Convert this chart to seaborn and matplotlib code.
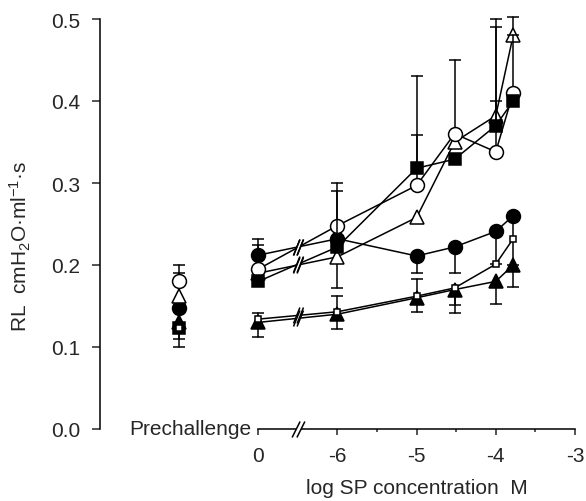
import numpy as np
import pandas as pd
import seaborn as sns
import matplotlib.pyplot as plt
from matplotlib.path import Path

# x positions: prechallenge sits one unit left of the "0" (saline) dose
pre_x = -8
dose_x = [-7, -6, -5, -4.52, -4, -3.78]
x_ticks = [-7, -6, -5, -4, -3]
x_tick_labels = ["0", "-6", "-5", "-4", "-3"]
x_minor = [-5.5, -4.5, -3.5]
y_ticks = [0.0, 0.1, 0.2, 0.3, 0.4, 0.5]

# first value is prechallenge, the rest follow dose_x
open_circle = [0.180, 0.195, 0.248, 0.297, 0.360, 0.338, 0.410]
filled_circle = [0.148, 0.212, 0.232, 0.211, 0.222, 0.241, 0.260]
open_triangle = [0.162, 0.190, 0.210, 0.258, 0.350, 0.382, 0.480]
filled_square = [0.123, 0.180, 0.222, 0.318, 0.329, 0.370, 0.400]
filled_triangle = [0.130, 0.130, 0.140, 0.160, 0.170, 0.180, 0.200]
small_square = [0.123, 0.134, 0.143, 0.162, 0.172, 0.201, 0.232]

# error bars drawn one-sided (down / up), 0 = not drawn
open_circle_lo = [0, 0, 0, 0, 0, 0, 0]
open_circle_hi = [0.020, 0.030, 0.052, 0.061, 0.090, 0.062, 0.070]
filled_circle_lo = [0, 0, 0, 0.021, 0.032, 0.040, 0.060]
filled_circle_hi = [0, 0.020, 0, 0, 0, 0, 0]
open_triangle_lo = [0, 0, 0.038, 0, 0, 0, 0]
open_triangle_hi = [0.028, 0, 0, 0, 0, 0.118, 0.023]
filled_square_lo = [0.023, 0, 0, 0, 0, 0, 0]
filled_square_hi = [0, 0, 0.068, 0.112, 0, 0.120, 0]
filled_triangle_lo = [0.020, 0.018, 0.018, 0.017, 0.029, 0.028, 0.027]
filled_triangle_hi = [0, 0, 0, 0, 0, 0, 0]
small_square_lo = [0, 0, 0, 0, 0.021, 0, 0]
small_square_hi = [0, 0.008, 0.019, 0.021, 0, 0, 0]

sns.set_style("ticks")
plt.rcParams["font.family"] = ["Liberation Sans", "DejaVu Sans"]
plt.rcParams["mathtext.fontset"] = "custom"
plt.rcParams["mathtext.rm"] = "Liberation Sans"
plt.rcParams["mathtext.it"] = "Liberation Sans:italic"

fs = 15
fig = plt.figure(figsize=(5.86, 5.02), dpi=100)
ax = fig.add_axes([100 / 586, 1 - 430 / 502, 486 / 586, 410 / 502])

lw = 1.1
series = [
    (filled_circle, filled_circle_lo, filled_circle_hi, "o", 10, "black", 3),
    (open_triangle, open_triangle_lo, open_triangle_hi, "^", 10, "white", 4),
    (open_circle, open_circle_lo, open_circle_hi, "o", 10, "white", 5),
    (filled_square, filled_square_lo, filled_square_hi, "s", 8.5, "black", 6),
    (filled_triangle, filled_triangle_lo, filled_triangle_hi, "^", 10, "black", 7),
    (small_square, small_square_lo, small_square_hi, "s", 5, "white", 8),
]

all_x = [pre_x] + dose_x
for vals, lo, hi, m, ms, fc, z in series:
    df = pd.DataFrame({"x": dose_x, "y": vals[1:]})
    sns.lineplot(data=df, x="x", y="y", ax=ax, color="black", lw=lw, marker=m,
                 markersize=ms, markerfacecolor=fc, markeredgecolor="black",
                 markeredgewidth=lw, estimator=None, sort=False, zorder=z)
    ax.plot([pre_x], [vals[0]], ls="none", marker=m, ms=ms, mfc=fc, mec="black",
            mew=lw, zorder=z)

    # error bars: stem from the point, cap at the end
    ends = [(x, y - e) for x, y, e in zip(all_x, vals, lo) if e > 0]
    ends += [(x, y + e) for x, y, e in zip(all_x, vals, hi) if e > 0]
    for x, yend in ends:
        yv = vals[all_x.index(x)]
        ax.plot([x, x], [yv, yend], color="black", lw=lw, zorder=z - 0.5,
                clip_on=False)
        ax.plot([x], [yend], marker="_", ms=9, mew=lw, color="black",
                zorder=z - 0.5, clip_on=False)


def break_mark(x, y, ms, sep, dx):
    # two parallel slashes with the line blanked between them
    c = sep / 2
    h = dx / 2
    slash = Path([(-c - h, -1), (-c + h, 1), (c - h, -1), (c + h, 1)],
                 [Path.MOVETO, Path.LINETO, Path.MOVETO, Path.LINETO])
    g = 0.3
    gap = Path([(-c - h * g, -g), (c - h * g, -g), (c + h * g, g), (-c + h * g, g),
                (-c - h * g, -g)])
    scale = max(np.abs(gap.vertices).max(), 1e-9) / max(c + h, 1)
    ax.plot([x], [y], marker=gap, ms=ms * scale, mfc="white", mew=0, ls="none",
            zorder=20, clip_on=False)
    ax.plot([x], [y], marker=slash, ms=ms, mfc="none", mec="black", mew=lw,
            ls="none", zorder=21, clip_on=False)


for vals, *_ in series:
    break_mark(-6.5, (vals[1] + vals[2]) / 2, 11.5, 0.45, 0.8)
break_mark(-6.5, 0, 11.5, 0.6, 1.0)

ax.set_xlim(-9.0, -2.86)
ax.set_ylim(0, 0.5)
ax.set_xticks(x_ticks)
ax.set_xticklabels(x_tick_labels)
ax.set_xticks(x_minor, minor=True)
ax.set_yticks(y_ticks)
ax.set_yticklabels([f"{v:.1f}" for v in y_ticks])
ax.spines["top"].set_visible(False)
ax.spines["right"].set_visible(False)
ax.spines["bottom"].set_bounds(-7, -3)
for s in ["left", "bottom"]:
    ax.spines[s].set_linewidth(lw)
    ax.spines[s].set_color("black")
ax.tick_params(axis="y", length=6, width=lw, pad=8, labelsize=fs)
ax.tick_params(axis="x", which="major", length=4, width=lw, pad=8, labelsize=fs)
ax.tick_params(axis="x", which="minor", length=2.5, width=lw)
ax.set_xlabel("")
ax.set_ylabel("")

ax.text(-7.09, 0, "Prechallenge", ha="right", va="center", fontsize=fs)
ax.text(-5, -0.142, "log SP concentration  M", ha="center", va="center",
        fontsize=fs, transform=ax.get_xaxis_transform())
fig.text(20 / 586, 1 - 246 / 502, r"RL  cmH$_2$O·ml$^{-1}$·s", rotation=90,
         ha="center", va="center", fontsize=fs)

fig.savefig("out.png", dpi=100)
